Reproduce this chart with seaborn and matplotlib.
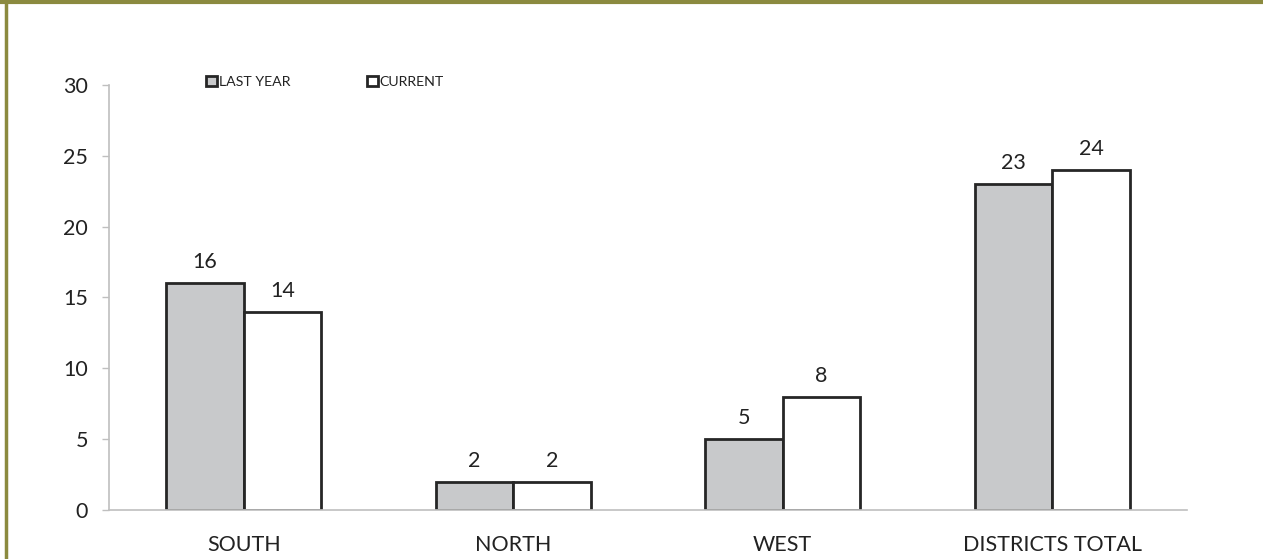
import pandas as pd
import seaborn as sns
import matplotlib.pyplot as plt
from matplotlib.lines import Line2D

# values
regions = ['SOUTH', 'NORTH', 'WEST', 'DISTRICTS TOTAL']
last_year = [16, 2, 5, 23]
current = [14, 2, 8, 24]
series = ['LAST YEAR', 'CURRENT']

df = pd.DataFrame({
    'region': regions * 2,
    'period': [series[0]] * len(regions) + [series[1]] * len(regions),
    'count': last_year + current,
})

sns.set_style('white')
plt.rcParams['font.family'] = ['Lato', 'DejaVu Sans']

fig = plt.figure(figsize=(12.63, 5.59), dpi=100)
ax = fig.add_axes([0.0863, 0.0877, 0.8535, 0.7603])

sns.barplot(data=df, x='region', y='count', hue='period', hue_order=series,
            palette=['#c8c9cb', '#ffffff'], width=0.575, gap=0,
            edgecolor='#262626', linewidth=2, saturation=1, ax=ax)

for c in ax.containers:
    ax.bar_label(c, padding=8, fontsize=15.5, color='#222222')

ax.set_ylim(0, 30)
ax.set_xlim(-0.5, 3.5)
ax.set_yticks(range(0, 31, 5))
ax.set_xlabel('')
ax.set_ylabel('')
ax.tick_params(axis='y', length=5, width=1, color='#bfbfbf', labelsize=15.5,
               labelcolor='#222222', pad=10, left=True)
ax.tick_params(axis='x', length=0, labelsize=15.5, labelcolor='#222222', pad=18)
for s in ['top', 'right']:
    ax.spines[s].set_visible(False)
for s in ['left', 'bottom']:
    ax.spines[s].set_color('#bfbfbf')
    ax.spines[s].set_linewidth(1.2)

leg = ax.legend(loc='upper left', bbox_to_anchor=(0.085, 1.035), ncol=2,
                frameon=False, fontsize=10.2, handlelength=0.75, handleheight=0.75,
                handletextpad=0.15, columnspacing=5.4, borderaxespad=0)
for t in leg.get_texts():
    t.set_color('#222222')

# olive frame on top and left
olive = '#8b8a3f'
fig.add_artist(Line2D([0, 1], [0.997, 0.997], transform=fig.transFigure, color=olive, lw=3))
fig.add_artist(Line2D([0.0048, 0.0048], [0, 1], transform=fig.transFigure, color=olive, lw=2.5))

fig.savefig('out.png', dpi=100)
